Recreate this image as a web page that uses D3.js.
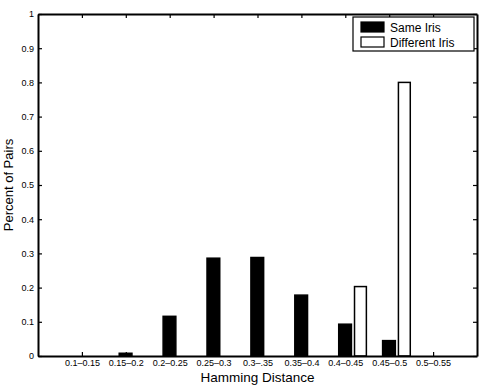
<!DOCTYPE html>
<html>
<head>
<meta charset="utf-8">
<script src="https://cdn.jsdelivr.net/npm/d3@7"></script>
<style>
  body { margin: 0; background: #fff; }
  svg { display: block; font-family: "Liberation Sans", Arial, sans-serif; }
</style>
</head>
<body>
<div id="chart"></div>
<script>
const categories = ["0.1\u20130.15", "0.15\u20130.2", "0.2\u20130.25", "0.25\u20130.3", "0.3\u2013.35",
  "0.35\u20130.4", "0.4\u20130.45", "0.45\u20130.5", "0.5\u20130.55"];
const sameIris = [0, 0.008, 0.116, 0.286, 0.288, 0.178, 0.093, 0.045, 0];
const diffIris = [0, 0, 0, 0, 0, 0, 0.203, 0.8, 0];
const yTicks = [0, 0.1, 0.2, 0.3, 0.4, 0.5, 0.6, 0.7, 0.8, 0.9, 1];
const seriesNames = ["Same Iris", "Different Iris"];

const W = 482, H = 386;
const margin = { top: 14, right: 5, bottom: 30, left: 38 };

const svg = d3.select("#chart").append("svg")
  .attr("width", W)
  .attr("height", H);

const x = d3.scaleLinear().domain([0, 10]).range([margin.left, W - margin.right]);
const y = d3.scaleLinear().domain([0, 1]).range([H - margin.bottom, margin.top]);

// bars: same iris centred on the tick, different iris just to the right
const bars = svg.append("g");
bars.selectAll(".same")
  .data(sameIris)
  .enter()
  .append("rect")
  .attr("class", "same")
  .attr("x", (d, i) => x(i + 1 - 0.15))
  .attr("y", d => y(d))
  .attr("width", x(0.29) - x(0))
  .attr("height", d => y(0) - y(d))
  .attr("fill", "#000")
  .attr("stroke", "#000")
  .attr("stroke-width", 1.5);

bars.selectAll(".diff")
  .data(diffIris)
  .enter()
  .append("rect")
  .attr("class", "diff")
  .attr("x", (d, i) => x(i + 1 + 0.21))
  .attr("y", d => y(d))
  .attr("width", x(0.27) - x(0))
  .attr("height", d => y(0) - y(d))
  .attr("fill", "#fff")
  .attr("stroke", "#000")
  .attr("stroke-width", 1.5);

// axes, MATLAB style: ticks point inwards, box all round
const xTicks = categories.map((c, i) => i + 1);
const styleAxis = g => {
  g.select(".domain").attr("stroke-width", 2);
  g.selectAll(".tick line").attr("stroke-width", 1.2);
  g.selectAll("text").attr("fill", "#000").style("font-size", "9px")
    .style("font-family", "'Liberation Sans', Arial, sans-serif");
};

svg.append("g")
  .attr("transform", `translate(0,${y(0)})`)
  .call(d3.axisBottom(x).tickValues(xTicks).tickSizeInner(-4).tickSizeOuter(0)
    .tickPadding(4).tickFormat(d => categories[d - 1]))
  .call(styleAxis);

svg.append("g")
  .attr("transform", `translate(0,${y(1)})`)
  .call(d3.axisTop(x).tickValues(xTicks).tickSizeInner(-4).tickSizeOuter(0).tickFormat(""))
  .call(styleAxis);

svg.append("g")
  .attr("transform", `translate(${x(0)},0)`)
  .call(d3.axisLeft(y).tickValues(yTicks).tickSizeInner(-4).tickSizeOuter(0)
    .tickPadding(4).tickFormat(d => String(+d.toFixed(1))))
  .call(styleAxis);

svg.append("g")
  .attr("transform", `translate(${x(10)},0)`)
  .call(d3.axisRight(y).tickValues(yTicks).tickSizeInner(-4).tickSizeOuter(0).tickFormat(""))
  .call(styleAxis);

// titles
svg.append("text")
  .attr("x", (x(0) + x(10)) / 2)
  .attr("y", 382)
  .attr("text-anchor", "middle")
  .style("font-size", "13.5px")
  .text("Hamming Distance");

svg.append("text")
  .attr("transform", `translate(13,${(y(0) + y(1)) / 2}) rotate(-90)`)
  .attr("text-anchor", "middle")
  .style("font-size", "13px")
  .text("Percent of Pairs");

// legend
const legend = svg.append("g").attr("transform", "translate(353,17)");
legend.append("rect")
  .attr("width", 121)
  .attr("height", 34)
  .attr("fill", "#fff")
  .attr("stroke", "#000")
  .attr("stroke-width", 1.2);

const items = legend.selectAll(".item")
  .data(seriesNames)
  .enter()
  .append("g")
  .attr("transform", (d, i) => `translate(0,${5 + i * 15})`);

items.append("rect")
  .attr("x", 8)
  .attr("width", 23)
  .attr("height", 10)
  .attr("fill", (d, i) => i === 0 ? "#000" : "#fff")
  .attr("stroke", "#000")
  .attr("stroke-width", 1.2);

items.append("text")
  .attr("x", 37)
  .attr("y", 9.5)
  .style("font-size", "12px")
  .text(d => d);
</script>
</body>
</html>
